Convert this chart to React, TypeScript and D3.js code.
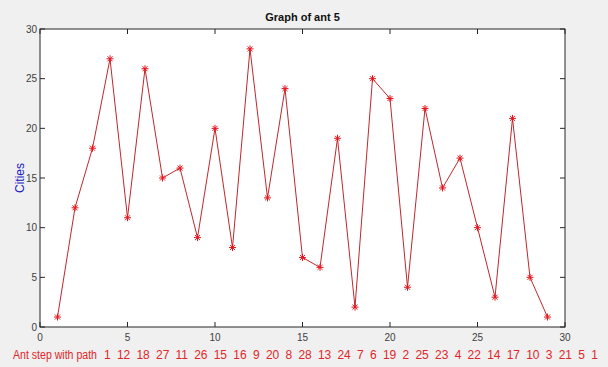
import React from "react";
import * as d3 from "d3";

const steps = d3.range(1, 30);
const cities = [1, 12, 18, 27, 11, 26, 15, 16, 9, 20, 8, 28, 13, 24, 7, 6, 19, 2, 25, 23, 4, 22, 14, 17, 10, 3, 21, 5, 1];
const xTicks = [0, 5, 10, 15, 20, 25, 30];
const yTicks = [0, 5, 10, 15, 20, 25, 30];
const pathPrefix = "Ant step with path";
const pathNumbers = cities.join("  ");

const W = 608, H = 367;
const L = 40, R = 565, T = 29, B = 327;

function Star({ x, y }: { x: number; y: number }) {
  const r = 3.5;
  const d = r * 0.707;
  return (
    <g stroke="#e8141c" strokeWidth={1}>
      <line x1={x - r} y1={y} x2={x + r} y2={y} />
      <line x1={x} y1={y - r} x2={x} y2={y + r} />
      <line x1={x - d} y1={y - d} x2={x + d} y2={y + d} />
      <line x1={x - d} y1={y + d} x2={x + d} y2={y - d} />
    </g>
  );
}

export default function App() {
  const x = d3.scaleLinear().domain([0, 30]).range([L, R]);
  const y = d3.scaleLinear().domain([0, 30]).range([B, T]);
  const line = d3.line<number>().x((_, i) => x(steps[i])).y((d) => y(d));
  const font = "'Liberation Sans', Arial, sans-serif";
  return (
    <svg width={W} height={H} style={{ position: "absolute", left: 0, top: 0, background: "#f0f0f0" }} fontFamily={font}>
      <rect x={0} y={0} width={W} height={H} fill="#f0f0f0" />
      <rect x={L} y={T} width={R - L} height={B - T} fill="#fff" stroke="#262626" strokeWidth={1} />
      {xTicks.map((t) => (
        <g key={"x" + t}>
          <line x1={x(t)} x2={x(t)} y1={B} y2={B - 5} stroke="#262626" />
          <line x1={x(t)} x2={x(t)} y1={T} y2={T + 5} stroke="#262626" />
          <text x={x(t)} y={B + 14} textAnchor="middle" fontSize={10} fill="#404040">{t}</text>
        </g>
      ))}
      {yTicks.map((t) => (
        <g key={"y" + t}>
          <line x1={L} x2={L + 5} y1={y(t)} y2={y(t)} stroke="#262626" />
          <line x1={R} x2={R - 5} y1={y(t)} y2={y(t)} stroke="#262626" />
          <text x={L - 3} y={y(t) + 3.5} textAnchor="end" fontSize={10} fill="#404040">{t}</text>
        </g>
      ))}
      <path d={line(cities) || ""} fill="none" stroke="#c0272d" strokeWidth={1} />
      {cities.map((c, i) => (
        <Star key={i} x={x(steps[i])} y={y(c)} />
      ))}
      <text x={(L + R) / 2} y={21} textAnchor="middle" fontSize={11} fontWeight="bold" fill="#111">Graph of ant 5</text>
      <text transform={`translate(24,${(T + B) / 2}) rotate(-90)`} textAnchor="middle" fontSize={12} fill="#2020c0">Cities</text>
      <text x={13} y={359} fontSize={12} fill="#e0262a" textLength={84} lengthAdjust="spacingAndGlyphs">{pathPrefix}</text>
      <text x={104} y={359} fontSize={12} fill="#e0262a" textLength={494} lengthAdjust="spacing" style={{ whiteSpace: "pre" }}>{pathNumbers}</text>
    </svg>
  );
}
